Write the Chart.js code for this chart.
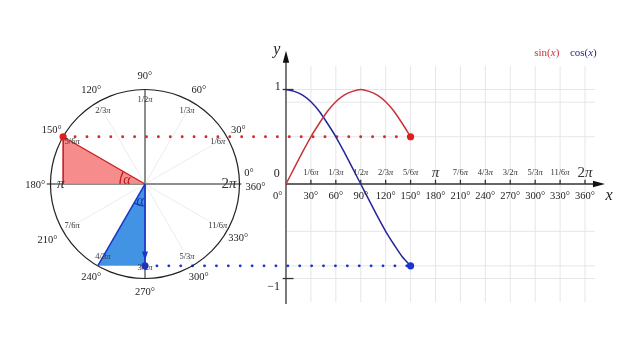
<!DOCTYPE html>
<html lang="en">
  <head>
    <meta charset="UTF-8" />
    <title>sin / cos on the unit circle</title>
    <script src="https://cdn.jsdelivr.net/npm/chart.js@4"></script>
    <style>
      html, body { margin: 0; padding: 0; background: #fff; }
      .wrap { width: 640px; height: 360px; position: relative; }
    </style>
  </head>
  <body>
    <div class="wrap"><canvas id="trigChart"></canvas></div>
    <script>
      // curve samples, every 10 degrees up to 150
      var curveDeg = [0, 10, 20, 30, 40, 50, 60, 70, 80, 90, 100, 110, 120, 130, 140, 150];
      var sinValues = [0, 0.17, 0.34, 0.5, 0.64, 0.77, 0.87, 0.94, 0.98, 1, 0.98, 0.94, 0.87, 0.77, 0.64, 0.5];
      var cosValues = [1, 0.98, 0.94, 0.87, 0.77, 0.64, 0.5, 0.34, 0.17, 0, -0.17, -0.34, -0.5, -0.64, -0.77, -0.866];

      // graph axis
      var degTicks = [30, 60, 90, 120, 150, 180, 210, 240, 270, 300, 330, 360];
      var degLabels = ["30°", "60°", "90°", "120°", "150°", "180°", "210°", "240°", "270°", "300°", "330°", "360°"];
      var piLabels = ["1/6π", "1/3π", "1/2π", "2/3π", "5/6π", "π", "7/6π", "4/3π", "3/2π", "5/3π", "11/6π", "2π"];
      var gridRows = [1, 0.866, 0.5, -0.5, -0.866, -1];

      // unit circle labels
      var circleAngles = [0, 30, 60, 90, 120, 150, 180, 210, 240, 270, 300, 330];
      var circleDegLabels = ["0°", "30°", "60°", "90°", "120°", "150°", "180°", "210°", "240°", "270°", "300°", "330°"];
      var circlePiLabels = ["2π", "1/6π", "1/3π", "1/2π", "2/3π", "5/6π", "π", "7/6π", "4/3π", "3/2π", "5/3π", "11/6π"];

      // current angle
      var currentDeg = 150;
      var currentSin = 0.5;
      var currentCos = -0.866;
      var redPoint = { x: -0.866, y: 0.5 };
      var bluePoint = { x: -0.5, y: -0.866 };
      var blueFoot = { x: 0, y: -0.866 };

      var SERIF = '"Liberation Serif", "DejaVu Serif", serif';
      var RED = "#c8323a";
      var BLUE = "#25259a";

      function xy(xs, ys) {
        return xs.map(function (x, i) { return { x: x, y: ys[i] }; });
      }

      function line(ctx, x1, y1, x2, y2) {
        ctx.beginPath();
        ctx.moveTo(x1, y1);
        ctx.lineTo(x2, y2);
        ctx.stroke();
      }

      function arrow(ctx, tx, ty, dx, dy, len, half) {
        var bx = tx - dx * len, by = ty - dy * len;
        ctx.beginPath();
        ctx.moveTo(tx, ty);
        ctx.lineTo(bx - dy * half, by + dx * half);
        ctx.lineTo(bx + dy * half, by - dx * half);
        ctx.closePath();
        ctx.fill();
      }

      // text with italic pieces, centred on x
      function drawParts(ctx, parts, x, y, size, color) {
        var w = 0;
        parts.forEach(function (p) {
          ctx.font = (p[1] ? "italic " : "") + size + "px " + SERIF;
          w += ctx.measureText(p[0]).width;
        });
        var cx = x - w / 2;
        ctx.fillStyle = color;
        ctx.textAlign = "left";
        ctx.textBaseline = "middle";
        parts.forEach(function (p) {
          ctx.font = (p[1] ? "italic " : "") + size + "px " + SERIF;
          ctx.fillText(p[0], cx, y);
          cx += ctx.measureText(p[0]).width;
        });
      }

      function drawPi(ctx, label, x, y) {
        var big = label === "π" || label === "2π";
        var parts = [[label.slice(0, -1), false], ["π", true]];
        drawParts(ctx, parts, x, y, big ? 15 : 8.5, "#333");
      }

      var trigDecor = {
        id: "trigDecor",
        beforeDatasetsDraw: function (chart) {
          var ctx = chart.ctx, X = chart.scales.x, Y = chart.scales.y, XC = chart.scales.xc;
          var px = function (v) { return X.getPixelForValue(v); };
          var py = function (v) { return Y.getPixelForValue(v); };
          var cx = function (v) { return XC.getPixelForValue(v); };
          ctx.save();

          // graph grid
          ctx.strokeStyle = "#e6e6e6";
          ctx.lineWidth = 1;
          degTicks.forEach(function (d) { line(ctx, px(d), py(1.25), px(d), py(-1.25)); });
          gridRows.forEach(function (v) { line(ctx, px(0), py(v), px(372), py(v)); });

          // graph axes
          ctx.strokeStyle = "#333";
          ctx.fillStyle = "#111";
          ctx.lineWidth = 1.3;
          line(ctx, px(0), py(-1.27), px(0), py(1.3));
          arrow(ctx, px(0), py(1.41), 0, -1, 12, 3.2);
          line(ctx, px(0), py(0), px(376), py(0));
          arrow(ctx, px(384), py(0), 1, 0, 12, 3.2);
          degTicks.forEach(function (d) { line(ctx, px(d), py(0), px(d), py(0.045)); });
          line(ctx, px(-4), py(1), px(9), py(1));
          line(ctx, px(-4), py(-1), px(9), py(-1));

          // circle spokes
          ctx.strokeStyle = "#ececec";
          ctx.lineWidth = 1;
          circleAngles.forEach(function (a) {
            if (a % 90 === 0) return;
            var r = a * Math.PI / 180;
            line(ctx, cx(0), py(0), cx(Math.cos(r)), py(Math.sin(r)));
          });

          // circle axes
          ctx.strokeStyle = "#8e8e8e";
          ctx.lineWidth = 2;
          line(ctx, cx(-1.04), py(0), cx(1.02), py(0));
          line(ctx, cx(0), py(1), cx(0), py(-1));

          // dotted projections
          ctx.lineCap = "round";
          ctx.lineWidth = 2.8;
          ctx.setLineDash([0.1, 11.8]);
          ctx.strokeStyle = "#d42a2a";
          line(ctx, cx(redPoint.x), py(currentSin), px(currentDeg), py(currentSin));
          ctx.strokeStyle = "#1a35c8";
          line(ctx, cx(blueFoot.x), py(currentCos), px(currentDeg), py(currentCos));
          ctx.restore();
        },
        afterDatasetsDraw: function (chart) {
          var ctx = chart.ctx, X = chart.scales.x, Y = chart.scales.y, XC = chart.scales.xc;
          var px = function (v) { return X.getPixelForValue(v); };
          var py = function (v) { return Y.getPixelForValue(v); };
          var cx = function (v) { return XC.getPixelForValue(v); };
          ctx.save();

          // angle arcs
          ctx.lineWidth = 1.2;
          ctx.strokeStyle = "#c01818";
          ctx.beginPath();
          ctx.arc(cx(0), py(0), 25, -Math.PI, -5 * Math.PI / 6);
          ctx.stroke();
          ctx.strokeStyle = "#1530b8";
          ctx.beginPath();
          ctx.arc(cx(0), py(0), 22, Math.PI / 2, 2 * Math.PI / 3);
          ctx.stroke();
          drawParts(ctx, [["α", true]], cx(-0.19), py(0.04), 14, "#c01818");
          drawParts(ctx, [["α", true]], cx(-0.05), py(-0.18), 14, "#1530b8");

          // arrow head on the cos projection
          ctx.fillStyle = "#1a35c8";
          arrow(ctx, cx(0), py(-0.81), 0, 1, 9, 3);

          // circle labels
          circleAngles.forEach(function (a, i) {
            var r = a * Math.PI / 180;
            drawPi(ctx, circlePiLabels[i], cx(0.89 * Math.cos(r)), py(0.89 * Math.sin(r)));
            if (a === 0) {
              drawParts(ctx, [["0°", false]], cx(1.1), py(0.11), 10.5, "#222");
              drawParts(ctx, [["360°", false]], cx(1.17), py(-0.03), 10.5, "#222");
            } else if (a === 180) {
              drawParts(ctx, [["180°", false]], cx(-1.16), py(-0.01), 10.5, "#222");
            } else {
              var rr = a === 210 ? 1.19 : 1.14;
              drawParts(ctx, [[circleDegLabels[i], false]], cx(rr * Math.cos(r)), py(rr * Math.sin(r)), 10.5, "#222");
            }
          });

          // graph labels
          degTicks.forEach(function (d, i) {
            drawPi(ctx, piLabels[i], px(d), py(0.12));
            drawParts(ctx, [[degLabels[i], false]], px(d), py(-0.13), 10.5, "#222");
          });
          drawParts(ctx, [["0", false]], px(-11), py(0.11), 12, "#222");
          drawParts(ctx, [["0°", false]], px(-10), py(-0.13), 10.5, "#222");
          drawParts(ctx, [["1", false]], px(-10), py(1.03), 12, "#222");
          drawParts(ctx, [["−1", false]], px(-15), py(-1.09), 12, "#222");
          drawParts(ctx, [["y", true]], px(-11), py(1.42), 16, "#222");
          drawParts(ctx, [["x", true]], px(389), py(-0.12), 16, "#222");

          // legend
          drawParts(ctx, [["sin(", false], ["x", true], [")", false]], px(314), py(1.38), 11, RED);
          drawParts(ctx, [["cos(", false], ["x", true], [")", false]], px(358), py(1.38), 11, BLUE);
          ctx.restore();
        },
      };

      var ctx = document.getElementById("trigChart").getContext("2d");
      var trigChart = new Chart(ctx, {
        type: "line",
        data: {
          datasets: [
            { data: [redPoint], xAxisID: "xc", showLine: false, pointRadius: 3.6, pointBackgroundColor: "#e01e1e", pointBorderWidth: 0 },
            { data: [blueFoot], xAxisID: "xc", showLine: false, pointRadius: 3.6, pointBackgroundColor: "#1a35d0", pointBorderWidth: 0 },
            { data: [{ x: currentDeg, y: currentSin }], showLine: false, pointRadius: 3.6, pointBackgroundColor: "#e01e1e", pointBorderWidth: 0 },
            { data: [{ x: currentDeg, y: currentCos }], showLine: false, pointRadius: 3.6, pointBackgroundColor: "#1a35d0", pointBorderWidth: 0 },
            { label: "sin(x)", data: xy(curveDeg, sinValues), borderColor: RED, borderWidth: 1.5, pointRadius: 0, tension: 0.3 },
            { label: "cos(x)", data: xy(curveDeg, cosValues), borderColor: BLUE, borderWidth: 1.5, pointRadius: 0, tension: 0.3 },
            { data: [{ x: 0, y: 0 }, blueFoot], xAxisID: "xc", borderColor: "#1a35c8", borderWidth: 1.6, pointRadius: 0 },
            { data: [{ x: redPoint.x, y: 0 }, redPoint], xAxisID: "xc", borderColor: "#c81e1e", borderWidth: 1.6, pointRadius: 0 },
            { data: [redPoint, { x: 0, y: 0 }], xAxisID: "xc", borderColor: "#c81e1e", borderWidth: 1.3, pointRadius: 0, fill: "origin", backgroundColor: "rgba(246, 128, 128, 0.9)" },
            { data: [bluePoint, { x: 0, y: 0 }], xAxisID: "xc", borderColor: "#1a35c8", borderWidth: 1.5, pointRadius: 0, fill: { value: currentCos }, backgroundColor: "#4293e3" },
            { data: [{ x: 0, y: 0 }], xAxisID: "xc", showLine: false, pointRadius: 94.5, pointBorderColor: "#222", pointBorderWidth: 1.2, pointBackgroundColor: "rgba(0,0,0,0)" },
          ],
        },
        options: {
          responsive: true,
          maintainAspectRatio: false,
          animation: false,
          events: [],
          layout: { padding: 0, autoPadding: false },
          plugins: {
            legend: { display: false },
            tooltip: { enabled: false },
          },
          scales: {
            x: { type: "linear", display: false, min: -344.3, max: 426.2 },
            xc: { type: "linear", axis: "x", position: "bottom", display: false, min: -1.534, max: 5.238 },
            y: { type: "linear", display: false, min: -1.862, max: 1.947 },
          },
        },
        plugins: [trigDecor],
      });
    </script>
  </body>
</html>
